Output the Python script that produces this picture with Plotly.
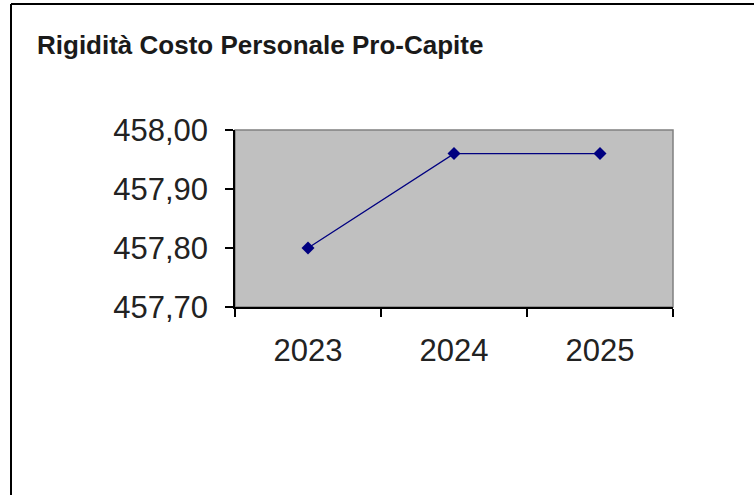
import plotly.graph_objects as go

years = ["2023", "2024", "2025"]
values = [457.80, 457.96, 457.96]
y_ticks = [457.70, 457.80, 457.90, 458.00]
title_text = "Rigidità Costo Personale Pro-Capite"

W, H = 754, 495
L, R, T, B = 235, 81, 130, 188
pw, ph = W - L - R, H - T - B

def px_x(p):
    return (p - L) / pw

def px_y(p):
    return (H - B - p) / ph

fig = go.Figure()
fig.add_trace(go.Scatter(
    x=years, y=values, mode="lines+markers",
    line=dict(color="#000080", width=1.3),
    marker=dict(symbol="diamond", size=10, color="#000080"),
    cliponaxis=False,
))

shapes = [
    dict(type="rect", xref="paper", yref="paper", x0=0, x1=1, y0=0, y1=1,
         line=dict(color="#808080", width=1.5), layer="below"),
    dict(type="line", xref="paper", yref="paper", x0=px_x(11), x1=px_x(W + 5),
         y0=px_y(4), y1=px_y(4), line=dict(color="black", width=2)),
    dict(type="line", xref="paper", yref="paper", x0=px_x(11), x1=px_x(11),
         y0=px_y(4), y1=px_y(H + 5), line=dict(color="black", width=2)),
]

fig.update_layout(
    width=W, height=H,
    margin=dict(l=L, r=R, t=T, b=B, autoexpand=False),
    paper_bgcolor="white",
    plot_bgcolor="#C0C0C0",
    separators=",.",
    showlegend=False,
    font=dict(family="Liberation Sans, Arial, sans-serif", color="#222222"),
    title=dict(text="<b>" + title_text + "</b>", xref="container", yref="container",
               x=37 / W, xanchor="left", y=1 - 45 / H, yanchor="middle",
               font=dict(size=26, color="#1a1a1a")),
    shapes=shapes,
    xaxis=dict(
        type="category", range=[-0.5, 2.5], showgrid=False, zeroline=False,
        showline=True, linecolor="black", linewidth=1.5,
        ticks="outside", tickson="boundaries", ticklen=8, tickcolor="black", tickwidth=1.5,
        tickfont=dict(size=31, color="#222222"), ticklabelstandoff=15,
    ),
    yaxis=dict(
        range=[457.70, 458.00], tickvals=y_ticks, tickformat=".2f",
        showgrid=False, zeroline=False,
        showline=True, linecolor="black", linewidth=1.5,
        ticks="outside", ticklen=8, tickcolor="black", tickwidth=1.5,
        tickfont=dict(size=31, color="#222222"), ticklabelstandoff=11,
    ),
)

fig.write_html("out.html", config={"displayModeBar": False},
               post_script="document.body.style.margin='0';document.body.style.overflow='hidden';")
